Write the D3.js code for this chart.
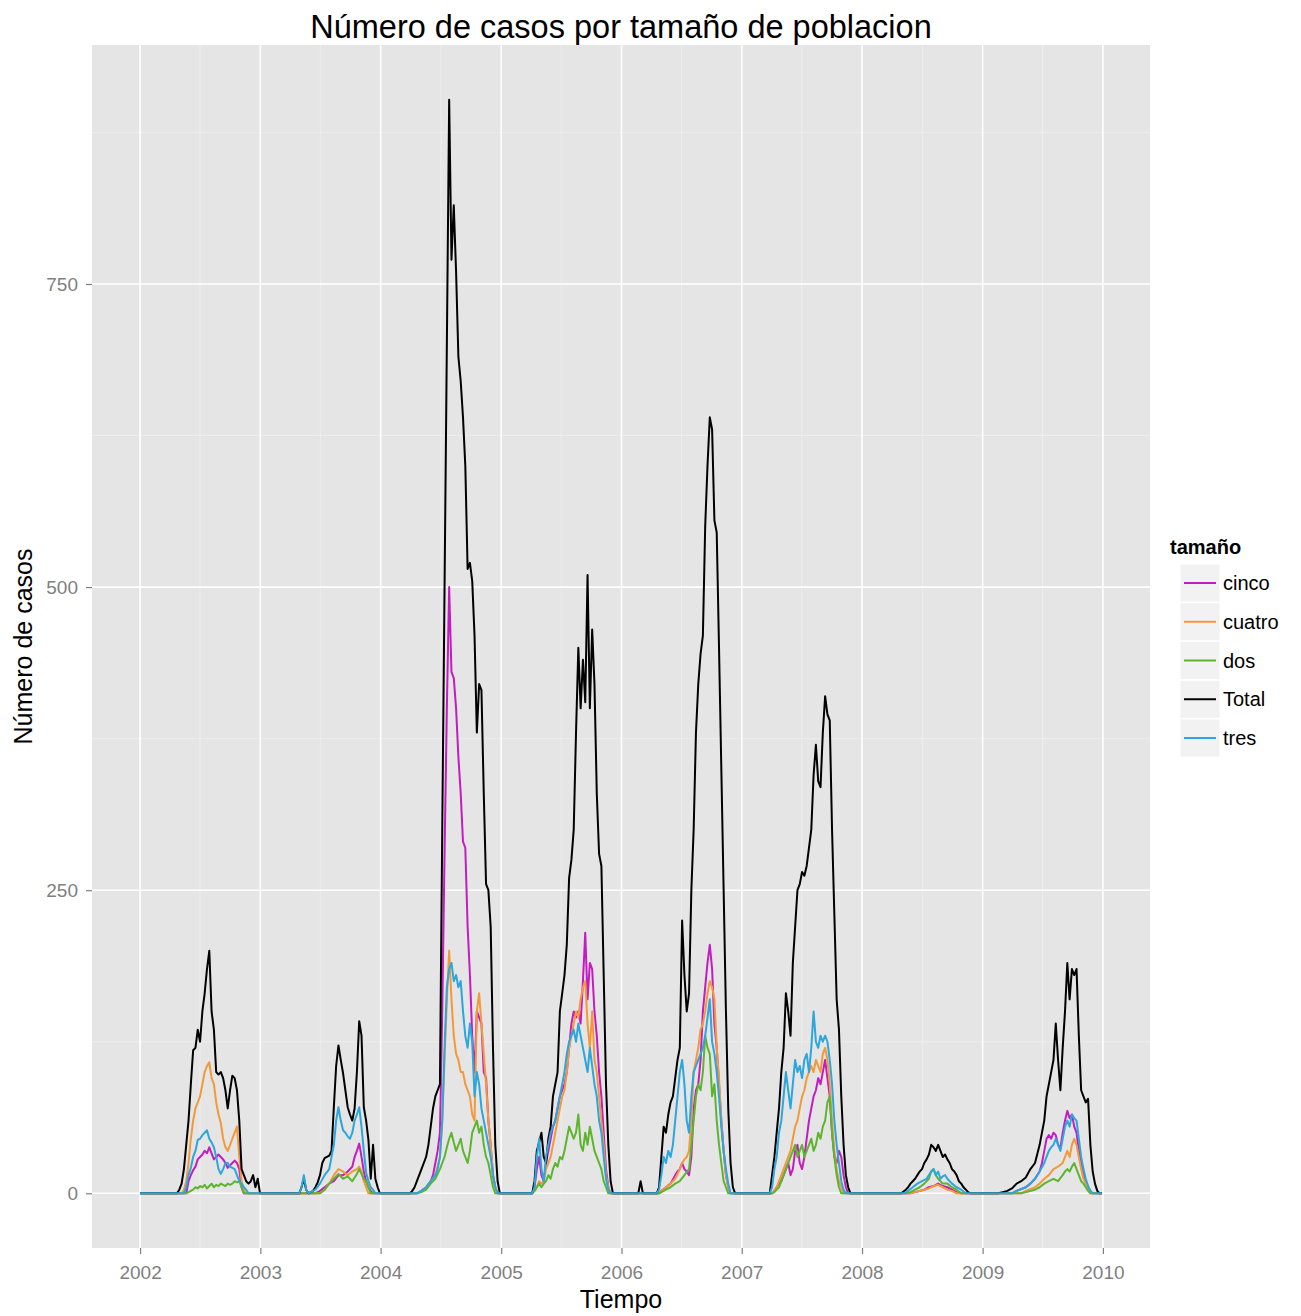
<!DOCTYPE html>
<html><head><meta charset="utf-8">
<script src="https://cdn.jsdelivr.net/npm/d3@7"></script>
<style>body{margin:0;background:#fff;} text{font-family:"Liberation Sans",Arial,Helvetica,sans-serif;}</style>
</head><body><svg id="c" width="1301" height="1316"></svg>
<script>
// ---- DATA: [week since 2002-01-01, cases] ----
const total = [[0,0],[16,0],[17,3],[18,8],[19,20],[20,40],[21,60],[22,90],[23,118],[24,120],[25,135],[26,125],[27,150],[28,165],[29,185],[30,200],[31,150],[32,135],[33,100],[34,98],[35,100],[36,95],[37,85],[38,70],[39,85],[40,97],[41,95],[42,85],[43,60],[44,20],[45,15],[46,10],[47,8],[48,10],[49,15],[50,5],[51,12],[52,0],
[69,0],[70,5],[71,12],[72,3],[73,0],[75,2],[76,5],[77,9],[78,15],[79,25],[80,29],[81,30],[82,31],[83,35],[84,71],[85,105],[86,122],[87,110],[88,99],[89,85],[90,71],[91,65],[92,60],[93,70],[94,100],[95,142],[96,130],[97,71],[98,60],[99,44],[100,12],[101,40],[102,12],[103,5],[104,0],
[117,0],[118,2],[119,5],[120,10],[121,15],[122,20],[123,25],[124,30],[125,40],[126,55],[127,70],[128,80],[129,85],[130,90],[131,300],[132,500],[133,700],[134,902],[135,770],[136,815],[137,760],[138,690],[139,670],[140,640],[141,600],[142,515],[143,520],[144,505],[145,460],[146,380],[147,420],[148,415],[149,330],[150,255],[151,250],[152,220],[153,120],[154,40],[155,10],[156,0],
[170,0],[171,10],[172,35],[173,42],[174,50],[175,30],[176,25],[177,45],[178,55],[179,80],[180,90],[181,100],[182,150],[183,165],[184,180],[185,205],[186,260],[187,275],[188,300],[189,380],[190,450],[191,400],[192,440],[193,405],[194,510],[195,400],[196,465],[197,420],[198,330],[199,280],[200,270],[201,180],[202,90],[203,40],[204,10],[205,0],
[216,0],[217,10],[218,0],
[224,0],[225,5],[226,30],[227,55],[228,50],[229,65],[230,75],[231,80],[232,95],[233,110],[234,120],[235,225],[236,180],[237,150],[238,165],[239,250],[240,300],[241,380],[242,420],[243,445],[244,460],[245,550],[246,600],[247,640],[248,630],[249,555],[250,545],[251,450],[252,350],[253,250],[254,150],[255,70],[256,25],[257,5],[258,0],
[273,0],[274,15],[275,30],[276,50],[277,70],[278,100],[279,120],[280,165],[281,150],[282,130],[283,190],[284,220],[285,250],[286,255],[287,265],[288,262],[289,270],[290,285],[291,300],[292,345],[293,370],[294,340],[295,335],[296,380],[297,410],[298,395],[299,390],[300,300],[301,230],[302,160],[303,135],[304,80],[305,40],[306,15],[307,5],[308,0],
[330,0],[332,3],[333,5],[334,8],[335,10],[336,12],[337,15],[338,18],[339,20],[340,25],[341,28],[342,32],[343,40],[344,38],[345,35],[346,40],[347,35],[348,30],[349,32],[350,28],[351,25],[352,20],[353,18],[354,15],[355,10],[356,8],[357,5],[358,3],[359,1],[360,0],
[372,0],[374,1],[376,2],[378,4],[380,8],[382,10],[384,13],[386,20],[388,25],[390,40],[391,50],[392,60],[393,80],[394,90],[395,100],[396,110],[397,140],[398,110],[399,85],[400,120],[401,150],[402,190],[403,160],[404,185],[405,180],[406,185],[407,130],[408,85],[409,80],[410,75],[411,78],[412,40],[413,18],[414,8],[415,2],[416,0],[417,0]];

const cinco = [[0,0],[20,0],[21,10],[22,15],[23,19],[24,22],[25,28],[26,30],[27,32],[28,35],[29,33],[30,38],[31,33],[32,28],[33,30],[34,32],[35,30],[36,28],[37,25],[38,21],[39,23],[40,25],[41,27],[42,25],[43,20],[44,5],[45,0],
[76,0],[78,2],[80,5],[82,8],[84,10],[86,15],[88,15],[90,18],[92,22],[93,30],[94,35],[95,41],[96,30],[97,18],[98,10],[99,5],[100,2],[101,0],
[120,0],[122,2],[124,5],[126,10],[127,15],[128,25],[129,35],[130,50],[131,150],[132,280],[133,400],[134,500],[135,430],[136,425],[137,400],[138,360],[139,330],[140,290],[141,285],[142,220],[143,180],[144,130],[145,100],[146,150],[147,145],[148,140],[149,100],[150,95],[151,60],[152,40],[153,15],[154,5],[155,0],
[170,0],[171,5],[172,20],[173,30],[174,15],[175,10],[176,25],[177,35],[178,45],[179,55],[180,60],[181,70],[182,80],[183,85],[184,90],[185,100],[186,120],[187,140],[188,150],[189,145],[190,150],[191,140],[192,175],[193,215],[194,160],[195,190],[196,185],[197,150],[198,130],[199,100],[200,80],[201,50],[202,20],[203,5],[204,0],
[225,0],[226,2],[228,5],[230,8],[232,15],[233,18],[234,20],[235,25],[236,20],[237,18],[238,15],[239,30],[240,70],[241,85],[242,90],[243,110],[244,150],[245,170],[246,190],[247,205],[248,185],[249,140],[250,120],[251,90],[252,60],[253,35],[254,15],[255,5],[256,0],
[274,0],[275,2],[276,5],[277,8],[278,10],[279,15],[280,20],[281,25],[282,15],[283,20],[284,35],[285,40],[286,25],[287,20],[288,30],[289,45],[290,60],[291,70],[292,80],[293,85],[294,95],[295,90],[296,100],[297,110],[298,95],[299,80],[300,50],[301,30],[302,25],[303,35],[304,30],[305,15],[306,5],[307,0],
[334,0],[336,1],[338,2],[340,3],[342,5],[344,6],[346,8],[348,6],[350,5],[352,3],[354,1],[356,0],
[378,0],[380,2],[384,5],[386,8],[388,12],[390,18],[391,25],[392,35],[393,45],[394,48],[395,45],[396,50],[397,48],[398,40],[399,37],[400,50],[401,60],[402,68],[403,62],[404,65],[405,55],[406,50],[407,35],[408,25],[409,15],[410,10],[411,5],[412,2],[413,0],[417,0]];

const cuatro = [[0,0],[18,0],[19,3],[20,10],[21,25],[22,45],[23,60],[24,70],[25,75],[26,80],[27,90],[28,100],[29,105],[30,108],[31,95],[32,90],[33,75],[34,65],[35,58],[36,45],[37,38],[38,35],[39,40],[40,45],[41,50],[42,55],[43,30],[44,10],[45,3],[46,0],
[78,0],[80,3],[82,8],[84,15],[86,20],[88,18],[90,15],[92,18],[94,20],[95,22],[96,18],[97,10],[98,5],[99,0],
[120,0],[122,2],[124,5],[126,10],[128,15],[130,30],[131,60],[132,110],[133,160],[134,200],[135,160],[136,130],[137,115],[138,110],[139,100],[140,100],[141,90],[142,85],[143,80],[144,65],[145,60],[146,150],[147,165],[148,140],[149,115],[150,90],[151,60],[152,40],[153,15],[154,5],[155,0],
[170,0],[171,2],[172,5],[173,10],[174,8],[175,10],[176,20],[177,25],[178,30],[179,40],[180,50],[181,60],[182,70],[183,80],[184,85],[185,100],[186,120],[187,130],[188,140],[189,150],[190,145],[191,160],[192,170],[193,175],[194,140],[195,120],[196,150],[197,110],[198,100],[199,80],[200,60],[201,40],[202,15],[203,5],[204,0],
[225,0],[226,2],[228,5],[230,8],[232,12],[234,20],[235,25],[236,28],[237,30],[238,35],[239,60],[240,100],[241,110],[242,120],[243,135],[244,140],[245,150],[246,165],[247,175],[248,170],[249,160],[250,120],[251,95],[252,60],[253,35],[254,15],[255,5],[256,0],
[274,0],[275,2],[276,5],[277,10],[278,15],[279,20],[280,25],[281,30],[282,35],[283,45],[284,55],[285,60],[286,70],[287,80],[288,85],[289,95],[290,100],[291,105],[292,100],[293,110],[294,105],[295,100],[296,115],[297,120],[298,110],[299,90],[300,60],[301,35],[302,20],[303,10],[304,5],[305,0],
[334,0],[336,1],[338,2],[340,3],[342,4],[344,6],[346,7],[348,5],[350,3],[352,2],[354,0],
[382,0],[384,2],[388,5],[390,8],[392,12],[394,15],[396,20],[398,22],[400,25],[401,30],[402,35],[403,30],[404,40],[405,45],[406,40],[407,30],[408,20],[409,12],[410,8],[411,4],[412,0],[417,0]];

const dos = [[0,0],[20,0],[21,1],[22,2],[23,3],[24,5],[25,4],[26,6],[27,5],[28,7],[29,4],[30,6],[31,8],[32,5],[33,7],[34,6],[35,8],[36,7],[37,6],[38,8],[39,7],[40,8],[41,10],[42,9],[43,10],[44,5],[45,0],
[78,0],[80,3],[82,8],[84,12],[86,16],[88,12],[90,14],[92,10],[94,16],[95,20],[96,16],[97,12],[98,10],[99,5],[100,0],
[120,0],[122,1],[124,3],[126,8],[128,12],[130,20],[131,25],[132,30],[133,38],[134,45],[135,50],[136,42],[137,35],[138,40],[139,45],[140,35],[141,30],[142,25],[143,35],[144,50],[145,55],[146,60],[147,50],[148,55],[149,40],[150,30],[151,25],[152,15],[153,5],[154,0],
[170,0],[171,2],[172,5],[173,8],[174,5],[175,8],[176,10],[177,15],[178,12],[179,20],[180,25],[181,22],[182,30],[183,28],[184,35],[185,45],[186,55],[187,50],[188,45],[189,50],[190,65],[191,40],[192,35],[193,50],[194,40],[195,55],[196,45],[197,35],[198,30],[199,25],[200,20],[201,10],[202,5],[203,0],
[225,0],[226,1],[228,3],[230,5],[232,8],[234,10],[236,15],[238,20],[239,40],[240,60],[241,80],[242,90],[243,85],[244,100],[245,130],[246,120],[247,115],[248,80],[249,90],[250,60],[251,40],[252,25],[253,10],[254,5],[255,0],
[274,0],[275,1],[276,3],[277,5],[278,10],[279,15],[280,20],[281,25],[282,30],[283,35],[284,40],[285,30],[286,35],[287,40],[288,30],[289,35],[290,40],[291,45],[292,35],[293,40],[294,50],[295,45],[296,55],[297,60],[298,75],[299,80],[300,50],[301,30],[302,15],[303,5],[304,0],
[332,0],[334,1],[336,3],[338,5],[340,8],[342,12],[343,18],[344,20],[345,15],[346,12],[347,10],[348,8],[350,8],[352,5],[354,3],[356,0],
[382,0],[384,1],[388,3],[390,5],[392,8],[394,10],[396,12],[398,10],[400,15],[401,18],[402,20],[403,18],[404,22],[405,25],[406,20],[407,15],[408,10],[409,8],[410,5],[411,2],[412,0],[417,0]];

const tres = [[0,0],[19,0],[20,5],[21,15],[22,21],[23,30],[24,35],[25,44],[26,45],[27,48],[28,50],[29,52],[30,45],[31,42],[32,38],[33,30],[34,20],[35,16],[36,20],[37,25],[38,25],[39,22],[40,21],[41,20],[42,15],[43,10],[44,8],[45,5],[46,3],[47,0],
[69,0],[70,5],[71,15],[72,3],[73,0],[76,3],[78,8],[80,15],[82,20],[84,40],[85,60],[86,71],[87,60],[88,52],[89,50],[90,47],[91,45],[92,50],[93,60],[94,65],[95,71],[96,55],[97,35],[98,17],[99,10],[100,5],[101,3],[102,0],
[120,0],[122,2],[124,5],[126,10],[128,15],[129,20],[130,30],[131,60],[132,120],[133,170],[134,185],[135,190],[136,175],[137,180],[138,170],[139,175],[140,150],[141,130],[142,120],[143,140],[144,125],[145,80],[146,100],[147,90],[148,70],[149,60],[150,50],[151,40],[152,30],[153,15],[154,5],[155,0],
[170,0],[171,5],[172,30],[173,45],[174,20],[175,10],[176,30],[177,40],[178,50],[179,55],[180,60],[181,70],[182,80],[183,90],[184,100],[185,115],[186,125],[187,130],[188,135],[189,125],[190,140],[191,130],[192,120],[193,110],[194,100],[195,120],[196,105],[197,90],[198,80],[199,60],[200,50],[201,30],[202,12],[203,3],[204,0],
[224,0],[225,3],[226,15],[227,30],[228,25],[229,35],[230,30],[231,40],[232,60],[233,80],[234,100],[235,110],[236,90],[237,60],[238,50],[239,80],[240,100],[241,105],[242,110],[243,115],[244,120],[245,130],[246,145],[247,160],[248,125],[249,115],[250,100],[251,80],[252,55],[253,35],[254,20],[255,8],[256,0],
[273,0],[274,5],[275,20],[276,30],[277,50],[278,60],[279,80],[280,100],[281,85],[282,70],[283,90],[284,110],[285,100],[286,105],[287,95],[288,110],[289,115],[290,100],[291,120],[292,150],[293,125],[294,120],[295,130],[296,125],[297,130],[298,125],[299,110],[300,90],[301,60],[302,40],[303,25],[304,10],[305,3],[306,0],
[331,0],[333,2],[335,5],[337,8],[339,10],[341,12],[342,15],[343,18],[344,20],[345,15],[346,18],[347,12],[348,14],[349,15],[350,12],[351,10],[352,8],[354,5],[356,3],[358,0],
[378,0],[380,2],[384,5],[386,8],[388,12],[390,18],[392,25],[393,30],[394,35],[395,38],[396,40],[397,45],[398,40],[399,35],[400,45],[401,55],[402,60],[403,55],[404,65],[405,62],[406,60],[407,45],[408,30],[409,20],[410,12],[411,6],[412,2],[413,0],[417,0]];

const categorias = ["cinco","cuatro","dos","Total","tres"];
const colores = ["#c41cc0","#f3993a","#5db52f","#000000","#2ca6dc"];
const seriesData = [cinco, cuatro, dos, total, tres];
const anios = [2002,2003,2004,2005,2006,2007,2008,2009,2010];
const yTicks = [0,250,500,750];
const yMinor = [125,375,625,875];

// ---- CHART ----
const svg = d3.select("#c");
const P = {l:92, r:1150, t:45, b:1248};
const inicio = new Date(2002,0,1);
const fecha = w => d3.timeDay.offset(inicio, Math.round(w*7));

const allW = d3.extent(total, d=>d[0]).map(fecha);
const span = allW[1]-allW[0];
const x = d3.scaleTime().domain([new Date(+allW[0]-span*0.05), new Date(+allW[1]+span*0.05)]).range([P.l,P.r]);
const ymax = d3.max(seriesData.flat(), d=>d[1]);
const y = d3.scaleLinear().domain([-ymax*0.05, ymax*1.05]).range([P.b,P.t]);

svg.append("rect").attr("x",P.l).attr("y",P.t).attr("width",P.r-P.l).attr("height",P.b-P.t).attr("fill","#e5e5e5");

const g = svg.append("g");
// minor grid
const xMinor = anios.map(a=>new Date(a,6,2)).filter(d=>d>=x.domain()[0]&&d<=x.domain()[1]);
g.selectAll(".xm").data(xMinor).join("line").attr("x1",d=>x(d)).attr("x2",d=>x(d)).attr("y1",P.t).attr("y2",P.b).attr("stroke","#efefef").attr("stroke-width",0.8);
g.selectAll(".ym").data(yMinor).join("line").attr("y1",d=>y(d)).attr("y2",d=>y(d)).attr("x1",P.l).attr("x2",P.r).attr("stroke","#efefef").attr("stroke-width",0.8);
// major grid
g.selectAll(".xg").data(anios).join("line").attr("x1",d=>x(new Date(d,0,1))).attr("x2",d=>x(new Date(d,0,1))).attr("y1",P.t).attr("y2",P.b).attr("stroke","#ffffff").attr("stroke-width",1.6);
g.selectAll(".yg").data(yTicks).join("line").attr("y1",d=>y(d)).attr("y2",d=>y(d)).attr("x1",P.l).attr("x2",P.r).attr("stroke","#ffffff").attr("stroke-width",1.6);

// lines
const line = d3.line().x(d=>x(fecha(d[0]))).y(d=>y(d[1]));
const lg = svg.append("g");
seriesData.forEach((s,i)=>{
  lg.append("path").datum(s).attr("d",line).attr("fill","none").attr("stroke",colores[i]).attr("stroke-width",2).attr("stroke-linejoin","round");
});

// axes
const xAxis = d3.axisBottom(x).tickValues(anios.map(a=>new Date(a,0,1))).tickFormat(d3.timeFormat("%Y")).tickSize(6).tickPadding(12);
const ax = svg.append("g").attr("transform",`translate(0,${P.b})`).call(xAxis);
const yAxis = d3.axisLeft(y).tickValues(yTicks).tickSize(6).tickPadding(8);
const ay = svg.append("g").attr("transform",`translate(${P.l},0)`).call(yAxis);
[ax,ay].forEach(a=>{
  a.select(".domain").remove();
  a.selectAll(".tick line").attr("stroke","#7f7f7f").attr("stroke-width",1.2);
  a.selectAll(".tick text").attr("fill","#7f7f7f").style("font-size","19px").style("font-family",'"Liberation Sans",Arial,sans-serif');
});

// titles
svg.append("text").attr("x",(P.l+P.r)/2).attr("y",38).attr("text-anchor","middle").style("font-size","32.5px").attr("fill","#000").text("Número de casos por tamaño de poblacion");
svg.append("text").attr("x",(P.l+P.r)/2).attr("y",1308).attr("text-anchor","middle").style("font-size","25px").attr("fill","#000").text("Tiempo");
svg.append("text").attr("transform",`translate(32,${(P.t+P.b)/2}) rotate(-90)`).attr("text-anchor","middle").style("font-size","25px").attr("fill","#000").text("Número de casos");

// legend
const L = svg.append("g");
L.append("text").attr("x",1170).attr("y",554).style("font-size","20px").style("font-weight","bold").text("tamaño");
const ky = d3.scalePoint().domain(categorias).range([583,738]);
categorias.forEach((c,i)=>{
  const cy = ky(c);
  L.append("rect").attr("x",1180).attr("y",cy-19).attr("width",40).attr("height",38).attr("fill","#f2f2f2").attr("stroke","#ffffff").attr("stroke-width",1);
  L.append("line").attr("x1",1184).attr("x2",1216).attr("y1",cy).attr("y2",cy).attr("stroke",colores[i]).attr("stroke-width",2);
  L.append("text").attr("x",1223).attr("y",cy+7).style("font-size","20px").attr("fill","#000").text(c);
});
</script>
</body></html>
